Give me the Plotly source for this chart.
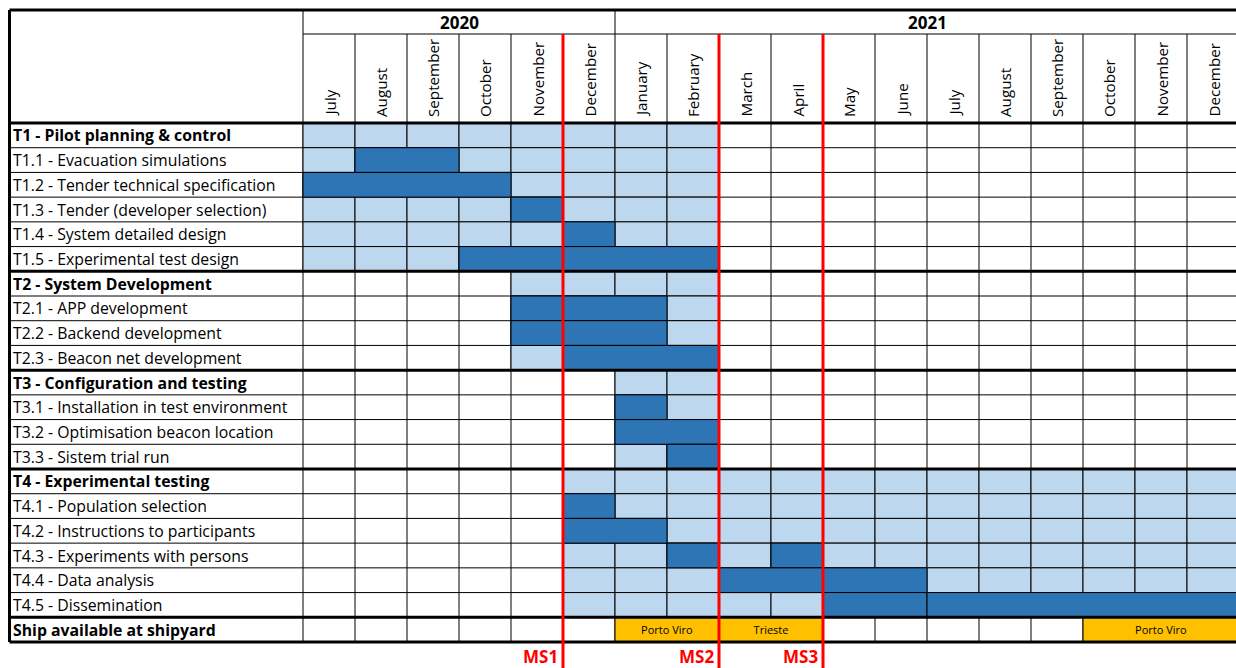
import plotly.graph_objects as go

# ---------------- data ----------------
years = ["2020", "2021"]
year_spans = [(0, 6), (6, 18)]
months = ["July", "August", "September", "October", "November", "December",
          "January", "February", "March", "April", "May", "June",
          "July", "August", "September", "October", "November", "December"]
tasks = [
    "T1 - Pilot planning & control",
    "T1.1 - Evacuation simulations",
    "T1.2 - Tender technical specification",
    "T1.3 - Tender (developer selection)",
    "T1.4 - System detailed design",
    "T1.5 - Experimental test design",
    "T2 - System Development",
    "T2.1 - APP development",
    "T2.2 - Backend development",
    "T2.3 - Beacon net development",
    "T3 - Configuration and testing",
    "T3.1 - Installation in test environment",
    "T3.2 - Optimisation beacon location",
    "T3.3 - Sistem trial run",
    "T4 - Experimental testing",
    "T4.1 - Population selection",
    "T4.2 - Instructions to participants",
    "T4.3 - Experiments with persons",
    "T4.4 - Data analysis",
    "T4.5 - Dissemination",
    "Ship available at shipyard",
]
bold_rows = [0, 6, 10, 14, 20]
# month index range (start, end) of the light-blue period for each task row
light_spans = [(0, 8), (0, 8), (0, 8), (0, 8), (0, 8), (0, 8),
               (4, 8), (4, 8), (4, 8), (4, 8),
               (6, 8), (6, 8), (6, 8), (6, 8),
               (5, 18), (5, 18), (5, 18), (5, 18), (5, 18), (5, 18),
               None]
# dark-blue activity segments (start, end) per task row
dark_spans = [[], [(1, 3)], [(0, 4)], [(4, 5)], [(5, 6)], [(3, 8)],
              [], [(4, 7)], [(4, 7)], [(5, 8)],
              [], [(6, 7)], [(6, 8)], [(7, 8)],
              [], [(5, 6)], [(5, 7)], [(7, 8), (9, 10)], [(8, 12)], [(10, 12), (12, 18)],
              []]
ship_row = 20
ship_spans = [(6, 8), (8, 10), (15, 18)]
ship_places = ["Porto Viro", "Trieste", "Porto Viro"]
milestones = ["MS1", "MS2", "MS3"]
milestone_months = [5, 8, 10]
section_breaks = [6, 10, 14, 20]

# ---------------- layout geometry ----------------
N_MONTHS = len(months)
N_ROWS = len(tasks)
PX_X = 52.0          # pixels per month
PX_Y = 24.714        # pixels per row
FIG_W, FIG_H = 1236, 668
X0_PX, Y0_PX = 303, 123   # pixel position of the first month / first row
X_RANGE = [-X0_PX / PX_X, (FIG_W - X0_PX) / PX_X]
Y_RANGE = [(FIG_H - Y0_PX) / PX_Y, -Y0_PX / PX_Y]
LABEL_LEFT = (9.5 - X0_PX) / PX_X
YEAR_TOP = (10 - Y0_PX) / PX_Y
MONTH_TOP = (34 - Y0_PX) / PX_Y
FONT = "Open Sans, Lato, sans-serif"
LIGHT = "#BDD7EE"
DARK = "#2E75B6"
ORANGE = "#FFC000"
RED = "#FF0000"

fig = go.Figure()

# light blue cells (one per month)
ly, lb = [], []
for r, span in enumerate(light_spans):
    if span is None:
        continue
    for m in range(span[0], span[1]):
        ly.append(r + 0.5)
        lb.append(m)
fig.add_trace(go.Bar(orientation="h", y=ly, base=lb, x=[1] * len(ly), width=1,
                     marker=dict(color=LIGHT, line=dict(color="black", width=1)),
                     hoverinfo="skip", showlegend=False))

# dark blue segments
dy, db, dl = [], [], []
for r, segs in enumerate(dark_spans):
    for s, e in segs:
        dy.append(r + 0.5)
        db.append(s)
        dl.append(e - s)
fig.add_trace(go.Bar(orientation="h", y=dy, base=db, x=dl, width=1,
                     marker=dict(color=DARK, line=dict(color="black", width=1)),
                     hoverinfo="skip", showlegend=False))

# ship availability
fig.add_trace(go.Bar(orientation="h", y=[ship_row + 0.5] * len(ship_spans),
                     base=[s for s, e in ship_spans], x=[e - s for s, e in ship_spans], width=1,
                     marker=dict(color=ORANGE, line=dict(color="black", width=1)),
                     text=ship_places, textposition="inside", insidetextanchor="middle",
                     textangle=0, constraintext="none",
                     textfont=dict(family=FONT, size=11, color="black"),
                     hoverinfo="skip", showlegend=False))

shapes = []
thin = dict(color="black", width=1)
thick = dict(color="black", width=3)
# thin horizontal row lines
for r in range(1, N_ROWS):
    if r in section_breaks:
        continue
    shapes.append(dict(type="line", xref="x", yref="y", x0=LABEL_LEFT, x1=N_MONTHS, y0=r, y1=r,
                       line=thin, layer="below"))
# year row bottom
shapes.append(dict(type="line", xref="x", yref="y", x0=0, x1=N_MONTHS, y0=MONTH_TOP, y1=MONTH_TOP,
                   line=thin, layer="below"))
# vertical month lines
year_starts = [s for s, e in year_spans]
for m in range(0, N_MONTHS + 1):
    top = YEAR_TOP if m in year_starts else MONTH_TOP
    shapes.append(dict(type="line", xref="x", yref="y", x0=m, x1=m, y0=top, y1=N_ROWS,
                       line=thin, layer="below"))
# thick borders
for yv in [YEAR_TOP, 0] + section_breaks + [N_ROWS]:
    shapes.append(dict(type="line", xref="x", yref="y", x0=LABEL_LEFT, x1=N_MONTHS, y0=yv, y1=yv,
                       line=thick, layer="above"))
shapes.append(dict(type="line", xref="x", yref="y", x0=LABEL_LEFT, x1=LABEL_LEFT, y0=YEAR_TOP, y1=N_ROWS,
                   line=thick, layer="above"))
# milestone red lines
for m in milestone_months:
    shapes.append(dict(type="line", xref="x", yref="y", x0=m, x1=m, y0=MONTH_TOP, y1=Y_RANGE[0],
                       line=dict(color=RED, width=3), layer="above"))

annotations = []
for (s, e), yr in zip(year_spans, years):
    annotations.append(dict(x=(s + e) / 2, y=(YEAR_TOP + MONTH_TOP) / 2, xref="x", yref="y",
                            text=f"<b>{yr}</b>", showarrow=False,
                            font=dict(family=FONT, size=17, color="black")))
for i, mo in enumerate(months):
    annotations.append(dict(x=i + 0.5, y=-4 / PX_Y, xref="x", yref="y", text=mo, showarrow=False,
                            textangle=-90, yanchor="bottom", xanchor="center",
                            font=dict(family=FONT, size=15.2, color="black")))
for r, t in enumerate(tasks):
    txt = f"<b>{t}</b>" if r in bold_rows else t
    annotations.append(dict(x=LABEL_LEFT + 1.5 / PX_X, y=r + 0.5, xref="x", yref="y", text=txt,
                            showarrow=False, xanchor="left", yanchor="middle",
                            font=dict(family=FONT, size=15.8, color="black")))
for name, m in zip(milestones, milestone_months):
    annotations.append(dict(x=m - 3 / PX_X, y=N_ROWS + 15 / PX_Y, xref="x", yref="y",
                            text=f"<b>{name}</b>",
                            showarrow=False, xanchor="right", yanchor="middle",
                            font=dict(family=FONT, size=17, color=RED)))

fig.update_layout(
    width=FIG_W, height=FIG_H,
    margin=dict(l=0, r=0, t=0, b=0),
    paper_bgcolor="white", plot_bgcolor="white",
    barmode="overlay",
    xaxis=dict(range=X_RANGE, visible=False, fixedrange=True),
    yaxis=dict(range=Y_RANGE, visible=False, fixedrange=True),
    shapes=shapes, annotations=annotations,
)

fig.write_html("out.html",
               config={"displayModeBar": False, "staticPlot": True},
               post_script="document.body.style.margin='0';document.body.style.overflow='hidden';")
